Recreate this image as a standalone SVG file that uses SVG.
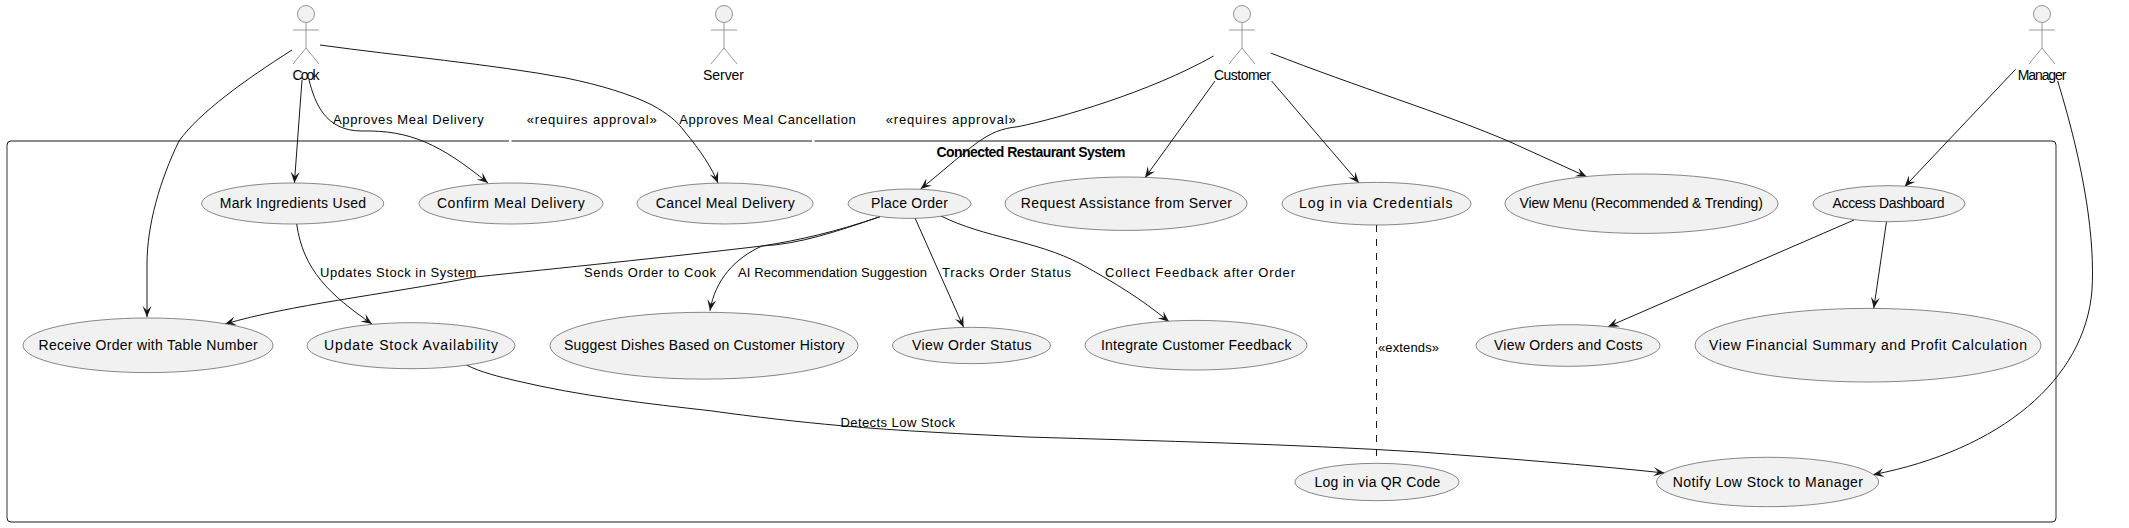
<svg xmlns="http://www.w3.org/2000/svg" width="2129" height="528" viewBox="0 0 2129 528">
<style>
text{font-family:"Liberation Sans",Arial,sans-serif;fill:#000}
.u{font-size:14px}.l{font-size:13px}.a{font-size:14px}.t{font-size:14px;font-weight:bold}
ellipse.uc{fill:#F1F1F1;stroke:#555;stroke-width:.7}
.head{fill:#F1F1F1;stroke:#666;stroke-width:.7}
.body{fill:none;stroke:#999;stroke-width:1}
.c{fill:none;stroke:#181818;stroke-width:1;marker-end:url(#ah)}
.d{fill:none;stroke:#181818;stroke-width:1;stroke-dasharray:7 7}
.h{fill:none;stroke:#181818;stroke-width:1}
.v{fill:none;stroke:#777;stroke-width:1.500}
</style>
<defs>
<marker id="ah" markerUnits="userSpaceOnUse" markerWidth="14" markerHeight="12" refX="11" refY="6" orient="auto"><path d="M11,6 L0,1.500 L4.500,6 L0,10.500 Z" fill="#181818"/></marker>
<symbol id="actor" overflow="visible"><circle class="head" cx="0" cy="14" r="8.500"/><path class="body" d="M0,22.500V48M-13,30H13M-13,64L0,48L13,64"/></symbol>
</defs>
<rect width="2129" height="528" fill="#fff"/>
<g id="system">
<path class="v" d="M7,145V518M2056,145V518"/>
<path class="h" d="M7,145Q7,141 11,141H509M511.500,141H812M814.500,141H2052Q2056,141 2056,145M2056,518Q2056,522 2052,522H11Q7,522 7,518"/>
<text class="t" x="936.400" y="156.700" textLength="189">Connected Restaurant System</text></g>
<g id="connectors">
<path class="c" d="M292,50C245,80 200,112 179,141C160,180 147,225 147,264L147,317"/>
<path class="c" d="M302,80L294.400,183"/>
<path class="c" d="M309,80C315,103 325,131 362,131C410,130 440,144 488,183"/>
<path class="c" d="M320,45C400,56 490,64 566,78C600,85 630,94 652,105C668,114 676,120 685,132C700,150 712,168 718,183"/>
<path class="c" d="M1213.600,56C1150,92 1060,118 1018,126.700C985,130 975,145 920.600,189"/>
<path class="c" d="M1215,81L1145,177.700"/>
<path class="c" d="M1271.600,81L1359,183"/>
<path class="c" d="M1270.700,53C1360,88 1440,112 1508,141L1586.700,176.700"/>
<path class="c" d="M2015.600,69.300L1904.600,186.700"/>
<path class="c" d="M2057.700,81C2085,170 2095,240 2092,290C2085,380 2000,450 1873,474.700"/>
<path class="c" d="M296.700,224C303,270 330,295 372,324"/>
<path class="c" d="M880,216.700C835,232 800,244 762,246C660,258 560,268 475.500,277C380,295 290,305 225,324"/>
<path class="c" d="M880,216.700C835,232 800,240 762,246C735,258 715,280 710,310.700"/>
<path class="c" d="M915,218L963.600,327.300"/>
<path class="c" d="M941,216C985,238 1035,240 1081,264C1115,283 1140,298 1169,321.700"/>
<path class="c" d="M1854,220L1608,326.700"/>
<path class="c" d="M1886.500,221.700L1873.800,308.300"/>
<path class="c" d="M466.500,365C480,372 500,377 516,380.700C580,396 650,404 710,410.700C755,417 800,422 841,425.700C900,431 965,434 1027,437C1160,441 1290,444 1420,452C1500,458 1590,465 1664.600,473"/>
<path class="d" d="M1376.500,225V456.700"/>
</g>
<g id="labels">
<text class="l" x="333" y="124" textLength="150.700">Approves Meal Delivery</text>
<text class="l" x="526.700" y="124" textLength="130">«requires approval»</text>
<text class="l" x="679.300" y="124" textLength="176.500">Approves Meal Cancellation</text>
<text class="l" x="885.700" y="124" textLength="130">«requires approval»</text>
<text class="l" x="320" y="277" textLength="156.400">Updates Stock in System</text>
<text class="l" x="584" y="277" textLength="132">Sends Order to Cook</text>
<text class="l" x="738" y="277" textLength="189">AI Recommendation Suggestion</text>
<text class="l" x="942" y="277" textLength="129">Tracks Order Status</text>
<text class="l" x="1105" y="277" textLength="190">Collect Feedback after Order</text>
<text class="l" x="840.400" y="426.500" textLength="114.600">Detects Low Stock</text>
<text class="l" x="1378" y="352" textLength="61">«extends»</text>
</g>
<g id="cook"><use href="#actor" x="306" y="0"/><text class="a" x="292.500" y="80" textLength="27">Cook</text></g>
<g id="server"><use href="#actor" x="724" y="0"/><text class="a" x="703" y="80" textLength="41">Server</text></g>
<g id="customer"><use href="#actor" x="1242" y="0"/><text class="a" x="1214" y="80" textLength="57">Customer</text></g>
<g id="manager"><use href="#actor" x="2042" y="0"/><text class="a" x="2017.800" y="80" textLength="48.500">Manager</text></g>
<g id="uc-mark"><ellipse class="uc" cx="292.700" cy="203.500" rx="91" ry="20.500"/><text class="u" x="219.700" y="208" textLength="146.300">Mark Ingredients Used</text></g>
<g id="uc-confirm"><ellipse class="uc" cx="511" cy="203.500" rx="92" ry="20.500"/><text class="u" x="437" y="208" textLength="147.700">Confirm Meal Delivery</text></g>
<g id="uc-cancel"><ellipse class="uc" cx="725" cy="203.500" rx="88" ry="20.500"/><text class="u" x="655.800" y="208" textLength="138.900">Cancel Meal Delivery</text></g>
<g id="uc-place"><ellipse class="uc" cx="909.500" cy="203.700" rx="61.500" ry="14.700"/><text class="u" x="871" y="208" textLength="77">Place Order</text></g>
<g id="uc-assist"><ellipse class="uc" cx="1126" cy="203.700" rx="121" ry="26.700"/><text class="u" x="1020.700" y="208" textLength="211.300">Request Assistance from Server</text></g>
<g id="uc-login"><ellipse class="uc" cx="1376.500" cy="203.700" rx="94.500" ry="21.300"/><text class="u" x="1299" y="208" textLength="153.600">Log in via Credentials</text></g>
<g id="uc-menu"><ellipse class="uc" cx="1641.500" cy="203.700" rx="136.500" ry="29.700"/><text class="u" x="1519.600" y="208" textLength="243.200">View Menu (Recommended &amp; Trending)</text></g>
<g id="uc-dash"><ellipse class="uc" cx="1889" cy="203.700" rx="76" ry="18"/><text class="u" x="1832.600" y="208" textLength="111.900">Access Dashboard</text></g>
<g id="uc-receive"><ellipse class="uc" cx="148" cy="345.300" rx="125" ry="27.300"/><text class="u" x="38.500" y="349.500" textLength="219.200">Receive Order with Table Number</text></g>
<g id="uc-update"><ellipse class="uc" cx="411" cy="345.700" rx="104" ry="23"/><text class="u" x="324" y="349.500" textLength="174">Update Stock Availability</text></g>
<g id="uc-suggest"><ellipse class="uc" cx="704" cy="345.700" rx="154" ry="33.400"/><text class="u" x="564" y="349.500" textLength="280.500">Suggest Dishes Based on Customer History</text></g>
<g id="uc-status"><ellipse class="uc" cx="971.500" cy="345.500" rx="79" ry="18.200"/><text class="u" x="912" y="349.500" textLength="119.600">View Order Status</text></g>
<g id="uc-feedback"><ellipse class="uc" cx="1196" cy="345.200" rx="111" ry="24.800"/><text class="u" x="1101" y="349.500" textLength="190.500">Integrate Customer Feedback</text></g>
<g id="uc-orders"><ellipse class="uc" cx="1568" cy="345.500" rx="92" ry="20.800"/><text class="u" x="1494" y="349.500" textLength="148.400">View Orders and Costs</text></g>
<g id="uc-finance"><ellipse class="uc" cx="1868" cy="345.200" rx="173" ry="36.800"/><text class="u" x="1709" y="349.500" textLength="318">View Financial Summary and Profit Calculation</text></g>
<g id="uc-qr"><ellipse class="uc" cx="1377" cy="482" rx="82" ry="18.700"/><text class="u" x="1314.600" y="486.500" textLength="125.800">Log in via QR Code</text></g>
<g id="uc-notify"><ellipse class="uc" cx="1767.600" cy="482" rx="111" ry="24.700"/><text class="u" x="1672.700" y="486.500" textLength="190.300">Notify Low Stock to Manager</text></g>
</svg>
